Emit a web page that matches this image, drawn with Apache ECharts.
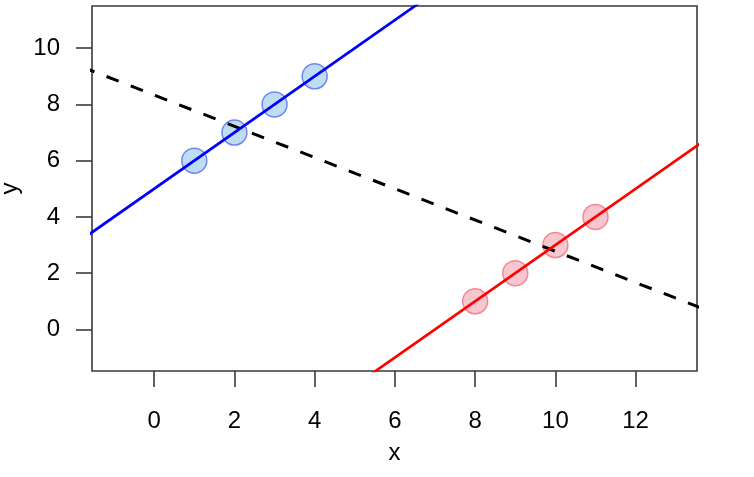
<!DOCTYPE html>
<html lang="en">
<head>
    <meta charset="UTF-8">
    <title>Chart</title>
    <script src="https://cdn.jsdelivr.net/npm/echarts@6/dist/echarts.min.js"></script>
    <style>
        html, body { margin: 0; padding: 0; background: #fff; }
    </style>
</head>
<body>
<div id="main" style="width: 754px;height: 477px"></div>
<script>
    // points
    var blueX = [1, 2, 3, 4];
    var blueY = [6, 7, 8, 9];
    var redX = [8, 9, 10, 11];
    var redY = [1, 2, 3, 4];

    // line end points (clipped by the plot box)
    var blueLineX = [-3, 8];
    var blueLineY = [2, 13];
    var redLineX = [4, 15];
    var redLineY = [-3, 8];
    var fitLineX = [-3, 15];
    var fitLineY = [10, 0];

    // tick labels
    var xTicks = [0, 2, 4, 6, 8, 10, 12];
    var yTicks = [0, 2, 4, 6, 8, 10];

    function pairs(xs, ys) {
        var out = [];
        for (let i = 0; i < xs.length; i++) {
            out.push([xs[i], ys[i]]);
        }
        return out;
    }

    var font = 'Liberation Sans, Arial, Helvetica, sans-serif';
    var chartDom = document.getElementById('main');
    var myChart = echarts.init(chartDom, null, { renderer: 'canvas' });
    var option;

    option = {
        animation: false,
        backgroundColor: '#fff',
        grid: {
            left: 92,
            right: 57,
            top: 6,
            bottom: 106,
            containLabel: false,
            outerBoundsMode: 'none',
            show: true,
            borderColor: '#3a3a3a',
            borderWidth: 1.6,
            backgroundColor: 'transparent'
        },
        xAxis: {
            type: 'value',
            min: -1.55,
            max: 13.53,
            name: 'x',
            nameLocation: 'middle',
            nameGap: 70,
            nameTextStyle: { fontFamily: font, fontSize: 24, color: '#000' },
            axisLine: { show: false, onZero: false },
            splitLine: { show: false },
            axisTick: {
                show: true,
                inside: false,
                length: 16,
                customValues: xTicks,
                lineStyle: { color: '#3a3a3a', width: 1.6 }
            },
            axisLabel: {
                customValues: xTicks,
                margin: 38,
                fontFamily: font,
                fontSize: 24,
                color: '#000'
            }
        },
        yAxis: {
            type: 'value',
            min: -1.48,
            max: 11.5,
            name: 'y',
            nameLocation: 'middle',
            nameGap: 68,
            nameRotate: 90,
            nameTextStyle: { fontFamily: font, fontSize: 24, color: '#000' },
            axisLine: { show: false, onZero: false },
            splitLine: { show: false },
            axisTick: {
                show: true,
                inside: false,
                length: 16,
                customValues: yTicks,
                lineStyle: { color: '#3a3a3a', width: 1.6 }
            },
            axisLabel: {
                customValues: yTicks,
                margin: 32,
                fontFamily: font,
                fontSize: 24,
                color: '#000'
            }
        },
        series: [
            {
                type: 'scatter',
                data: pairs(blueX, blueY),
                symbol: 'circle',
                symbolSize: 25,
                z: 2,
                itemStyle: {
                    color: '#acd4ee',
                    borderColor: '#5a6cf0',
                    borderWidth: 1.5
                }
            },
            {
                type: 'scatter',
                data: pairs(redX, redY),
                symbol: 'circle',
                symbolSize: 25,
                z: 2,
                itemStyle: {
                    color: '#f6b8c3',
                    borderColor: '#f2707c',
                    borderWidth: 1.5
                }
            },
            {
                type: 'line',
                data: pairs(fitLineX, fitLineY),
                showSymbol: false,
                clip: true,
                z: 3,
                lineStyle: { color: '#000', width: 3, type: [13, 13] }
            },
            {
                type: 'line',
                data: pairs(blueLineX, blueLineY),
                showSymbol: false,
                clip: true,
                z: 4,
                lineStyle: { color: '#0000ff', width: 2.7 }
            },
            {
                type: 'line',
                data: pairs(redLineX, redLineY),
                showSymbol: false,
                clip: true,
                z: 4,
                lineStyle: { color: '#ff0000', width: 2.7 }
            }
        ]
    };
    option && myChart.setOption(option);
</script>
</body>
</html>
